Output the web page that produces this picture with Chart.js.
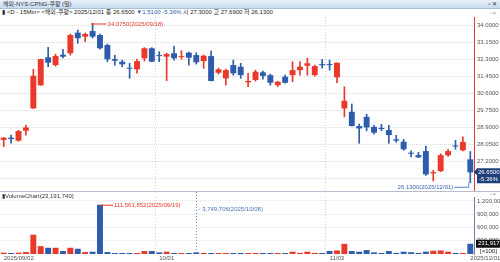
<!DOCTYPE html>
<html>
<head>
<meta charset="utf-8">
<script src="https://cdn.jsdelivr.net/npm/chart.js@4.4.0/dist/chart.umd.min.js"></script>
<style>
body{margin:0;width:500px;height:262px;overflow:hidden;background:#fff;position:relative;
  font-family:"Liberation Sans","Noto Sans CJK KR",sans-serif;}
#titlebar{position:absolute;left:0;top:0;width:500px;height:8px;background:linear-gradient(#e6f0f9,#c8dbee);
  border-bottom:1px solid #a8bfd8;font-size:6px;line-height:8px;color:#333;}
#titlebar .t{position:absolute;left:3px;top:0;}
#titlebar .b{position:absolute;right:3px;top:0;font-size:6px;color:#334;}
#info{position:absolute;left:2px;top:9px;font-size:6px;line-height:7px;color:#222;white-space:nowrap;}
#info .dn{color:#2d5cab;}
.icons{position:absolute;right:4px;font-size:5px;color:#889;}
#pricewrap{position:absolute;left:0;top:17px;}
#volwrap{position:absolute;left:0;top:191px;border-top:1px solid #b5bccb;}
</style>
</head>
<body>
<div id="titlebar"><span class="t">해외-NYS:CPNG-쿠팡 (일)</span><span class="b">▫ ✕</span></div>
<div id="info">▮ &lt;D - 15Min&gt; &lt;해외-쿠팡&gt; 2025/12/01 종 26.6500 <span class="dn">▼1.5100 -5.36%</span> 시 27.3000 고 27.6900 저 26.1300</div>
<div class="icons" style="top:10px">▫ ×</div>
<div id="pricewrap"><canvas id="price" width="500" height="174"></canvas></div>
<div id="volwrap"><canvas id="volume" width="500" height="70"></canvas></div>
<div class="icons" style="top:191px">▫ ×</div>
<script>
const dates = [
  '2025/09/02','2025/09/03','2025/09/04','2025/09/05','2025/09/08','2025/09/09','2025/09/10','2025/09/11',
  '2025/09/12','2025/09/15','2025/09/16','2025/09/17','2025/09/18','2025/09/19','2025/09/22','2025/09/23',
  '2025/09/24','2025/09/25','2025/09/26','2025/09/29','2025/09/30',
  '2025/10/01','2025/10/02','2025/10/03','2025/10/06','2025/10/07','2025/10/08','2025/10/09','2025/10/10',
  '2025/10/13','2025/10/14','2025/10/15','2025/10/16','2025/10/17','2025/10/20','2025/10/21','2025/10/22',
  '2025/10/23','2025/10/24','2025/10/27','2025/10/28','2025/10/29','2025/10/30','2025/10/31',
  '2025/11/03','2025/11/04','2025/11/05','2025/11/06','2025/11/07','2025/11/10','2025/11/11','2025/11/12',
  '2025/11/13','2025/11/14','2025/11/17','2025/11/18','2025/11/19','2025/11/20','2025/11/21','2025/11/24',
  '2025/11/25','2025/11/26','2025/11/28',
  '2025/12/01'
];
const opens = [
  28.27,28.38,28.23,28.73,29.84,30.99,32.39,32.00,32.52,32.59,33.62,33.42,33.70,33.50,33.00,32.30,
  32.17,31.87,31.79,32.34,32.84,32.50,32.42,32.59,32.40,32.62,32.50,32.20,32.45,31.62,31.34,32.00,
  31.92,31.14,31.26,31.64,31.50,31.00,31.42,31.50,31.75,31.97,31.50,32.05,32.05,31.39,29.84,29.67,
  28.96,29.42,28.92,28.87,28.76,28.30,28.18,27.62,27.51,27.71,26.60,26.71,27.50,27.98,27.75,27.30
];
const highs = [
  28.40,28.51,28.75,29.01,31.79,32.30,32.89,32.55,32.79,33.55,33.75,33.60,34.075,33.55,33.05,32.50,
  32.25,32.09,32.30,32.87,32.87,32.67,32.60,32.95,32.72,32.65,32.62,32.50,32.70,31.85,31.80,32.25,
  32.09,31.59,31.75,31.70,31.55,31.20,31.50,32.17,32.17,32.34,32.00,32.28,32.25,32.12,30.92,30.06,
  29.06,29.55,29.00,29.05,29.00,28.50,28.30,27.72,27.65,27.96,26.76,27.58,27.80,28.25,28.42,27.69
];
const lows = [
  27.93,28.10,28.20,28.51,29.84,30.99,31.92,31.95,32.36,32.50,33.09,33.17,33.35,32.80,32.17,32.00,
  31.92,31.34,31.60,32.20,32.17,32.17,31.22,32.25,32.30,32.00,32.05,31.84,31.21,31.55,31.00,31.50,
  31.34,30.92,31.20,31.30,31.00,30.92,31.10,31.17,31.50,31.50,31.45,31.85,31.75,31.12,29.42,28.96,
  28.10,28.72,28.55,28.72,28.10,28.15,27.75,27.42,27.38,26.50,26.22,26.68,27.45,27.80,27.72,26.13
];
const closes = [
  28.38,28.31,28.71,28.89,31.47,32.30,32.12,32.45,32.42,33.50,33.34,33.55,33.42,32.84,32.29,32.22,
  32.04,31.82,32.20,32.84,32.17,32.45,32.55,32.34,32.45,32.37,32.14,32.47,31.21,31.79,31.75,31.59,
  31.50,31.21,31.67,31.46,31.12,31.17,31.12,31.75,31.92,32.09,31.95,31.99,32.00,32.12,30.22,28.96,
  28.84,28.89,28.63,28.81,28.51,28.23,27.80,27.58,27.40,26.55,26.66,27.51,27.71,27.94,28.16,26.65
];
const volumes = [
  3000000,1500000,3000000,4400000,43700000,17800000,14100000,14100000,6700000,14100000,11900000,4400000,
  5200000,111561852,4400000,2200000,2200000,2200000,2200000,6700000,6700000,3700000,5200000,1500000,
  1500000,800000,3749706,1000000,2200000,1000000,1000000,2200000,1000000,1500000,1000000,1500000,
  2000000,1500000,1500000,5200000,2500000,5200000,2500000,1000000,6700000,8100000,23000000,6700000,
  5200000,8900000,3700000,2000000,6700000,2500000,5200000,4000000,2500000,5200000,7400000,8100000,
  5200000,2000000,1000000,23191740
];
const priceTicks = [34.00, 33.15, 32.30, 31.45, 30.60, 29.75, 28.90, 28.05, 27.20, 26.35];
const volumeTicks = [300000, 600000, 900000, 1200000];
const tickDates = ['2025/09/02', '2025/10/01', '2025/11/03', '2025/12/01'];
const tickTexts = ['2025/09/02', '10/01', '11/03', '2025/12/01'];
const gridDates = ['2025/10/01', '2025/11/03'];
const crossDate = '2025/10/08';
const prevClose = 28.16;

const RED = '#e8392b';
const BLUE = '#2d5cab';
const FONT = '"Liberation Sans", sans-serif';
const AXIS_W = 26;

const candleColors = dates.map((d, i) => closes[i] >= opens[i] ? RED : BLUE);

// keep the right axis a fixed width and stop it from padding the plot
function fixWidth(scale){
    scale.width = AXIS_W;
    scale.paddingTop = 0;
    scale.paddingBottom = 0;
}

function monthGrid(ctx){
    return gridDates.includes(dates[ctx.index]) ? '#cfcfcf' : 'rgba(0,0,0,0)';
}

const priceMarks = {
    id: 'priceMarks',
    afterDatasetsDraw(chart){
        const {ctx, scales: {x, y}} = chart;
        const hi = highs.indexOf(Math.max(...highs));
        const lo = lows.indexOf(Math.min(...lows));
        ctx.save();
        ctx.font = '6px ' + FONT;
        ctx.textBaseline = 'middle';
        ctx.lineWidth = 1;

        // highest price
        let px = x.getPixelForValue(hi), py = y.getPixelForValue(highs[hi]);
        ctx.strokeStyle = RED; ctx.fillStyle = RED;
        ctx.beginPath(); ctx.moveTo(px, py + 0.5); ctx.lineTo(px + 14, py + 0.5); ctx.stroke();
        ctx.fillRect(px - 1, py - 0.5, 2, 2);
        ctx.fillText(highs[hi].toFixed(4) + '(' + dates[hi] + ')', px + 15, py + 0.5);

        // lowest price
        px = x.getPixelForValue(lo); py = y.getPixelForValue(lows[lo]);
        const ly = py + 4;
        ctx.strokeStyle = '#5a7fc4'; ctx.fillStyle = '#3a64b0';
        ctx.beginPath(); ctx.moveTo(px - 1.5, py); ctx.lineTo(px - 1.5, ly + 0.5); ctx.lineTo(px - 16, ly + 0.5); ctx.stroke();
        ctx.textAlign = 'right';
        ctx.fillText(lows[lo].toFixed(4) + '(' + dates[lo] + ')', px - 17, ly + 0.5);

        // current price box
        const last = closes.length - 1;
        const cy = y.getPixelForValue(closes[last]);
        const bx = chart.chartArea.right + 2;
        ctx.fillStyle = '#1f3f78';
        ctx.beginPath();
        ctx.moveTo(bx - 2, cy);
        ctx.lineTo(bx + 1, cy - 4);
        ctx.lineTo(500, cy - 4);
        ctx.lineTo(500, cy + 11);
        ctx.lineTo(bx + 1, cy + 11);
        ctx.lineTo(bx + 1, cy + 3);
        ctx.closePath();
        ctx.fill();
        ctx.fillStyle = '#fff';
        ctx.textAlign = 'left';
        const pct = (closes[last] - prevClose) / prevClose * 100;
        ctx.fillText(closes[last].toFixed(4), bx + 2, cy);
        ctx.fillText(pct.toFixed(2) + '%', bx + 3, cy + 7);
        ctx.restore();
    }
};

const volumeMarks = {
    id: 'volumeMarks',
    afterDatasetsDraw(chart){
        const {ctx, scales: {x, y}, chartArea} = chart;
        ctx.save();
        ctx.font = '6px ' + FONT;
        ctx.textBaseline = 'middle';
        const last = volumes.length - 1;

        ctx.fillStyle = '#333';
        ctx.fillText('▮VolumeChart(' + volumes[last].toLocaleString('en-US') + ')', 2, 4);

        // biggest volume
        const top = volumes.indexOf(Math.max(...volumes));
        let px = x.getPixelForValue(top), py = y.getPixelForValue(volumes[top] / 100);
        ctx.strokeStyle = RED; ctx.fillStyle = RED;
        ctx.beginPath(); ctx.moveTo(px, py + 0.5); ctx.lineTo(px + 13, py + 0.5); ctx.stroke();
        ctx.fillText(volumes[top].toLocaleString('en-US') + '(' + dates[top] + ')', px + 14, py + 0.5);

        // crosshair
        const ci = dates.indexOf(crossDate);
        px = Math.round(x.getPixelForValue(ci)) + 0.5;
        ctx.strokeStyle = '#6f8fd0'; ctx.setLineDash([1, 2]);
        ctx.beginPath(); ctx.moveTo(px, 0); ctx.lineTo(px, chartArea.bottom); ctx.stroke();
        ctx.setLineDash([]);
        ctx.fillStyle = '#4a70b8';
        ctx.fillText('- ' + volumes[ci].toLocaleString('en-US') + '(' + dates[ci] + ')', px + 2, 17);

        // current volume box
        const cy = y.getPixelForValue(volumes[last] / 100);
        const bx = chartArea.right + 2;
        ctx.fillStyle = '#111';
        ctx.fillRect(bx, cy - 4, 500 - bx, 8);
        ctx.fillStyle = '#fff';
        ctx.fillText(Math.round(volumes[last] / 100).toLocaleString('en-US'), bx + 2, cy);
        ctx.fillStyle = '#222';
        ctx.fillText('[×100]', bx + 4, cy + 8);
        ctx.restore();
    }
};

function createPriceChart(){
    const canvas = document.querySelector('#price');
    let options = {
        type: 'bar',
        data: {
            labels: dates,
            datasets: [{
                label: 'wick',
                data: dates.map((d, i) => [lows[i], highs[i]]),
                backgroundColor: candleColors,
                barThickness: 1,
                grouped: false,
                order: 2,
            }, {
                label: 'body',
                data: dates.map((d, i) => [opens[i], closes[i]]),
                backgroundColor: candleColors,
                barPercentage: 0.8,
                categoryPercentage: 1,
                minBarLength: 1,
                grouped: false,
                order: 1,
            }]
        },
        options: {
            responsive: false,
            animation: false,
            devicePixelRatio: 1,
            layout: { padding: 0 },
            scales: {
                x: {
                    ticks: { display: false },
                    grid: { color: monthGrid, drawTicks: false },
                    border: { display: false, dash: [1, 2] },
                    afterFit: (scale) => { scale.height = 0; scale.paddingLeft = 0; scale.paddingRight = 0; },
                },
                y: {
                    position: 'right',
                    min: 25.72,
                    max: 34.40,
                    afterBuildTicks: (scale) => { scale.ticks = priceTicks.map(v => ({ value: v })); },
                    afterFit: fixWidth,
                    ticks: {
                        padding: 3,
                        color: '#555',
                        font: { family: FONT, size: 6 },
                        callback: (v) => Number(v).toFixed(4),
                    },
                    grid: { color: '#dcdcdc', drawTicks: false },
                    border: { color: '#e53935', width: 1, dash: [1, 1] },
                },
            },
            plugins: {
                legend: { display: false },
                tooltip: { enabled: false },
            },
        },
        plugins: [priceMarks],
    };
    const chart = new Chart(canvas.getContext('2d'), options);
}

function createVolumeChart(){
    const canvas = document.querySelector('#volume');
    let options = {
        type: 'bar',
        data: {
            labels: dates,
            datasets: [{
                label: 'Volume',
                data: volumes.map(v => v / 100),
                backgroundColor: candleColors,
                barPercentage: 0.8,
                categoryPercentage: 1,
                minBarLength: 1,
            }]
        },
        options: {
            responsive: false,
            animation: false,
            devicePixelRatio: 1,
            layout: { padding: { top: 5 } },
            scales: {
                x: {
                    ticks: {
                        autoSkip: false,
                        maxRotation: 0,
                        align: 'start',
                        padding: 1,
                        color: '#555',
                        font: { family: FONT, size: 6 },
                        callback: (v, i) => {
                            const k = tickDates.indexOf(dates[i]);
                            return k >= 0 ? tickTexts[k] : '';
                        },
                    },
                    grid: { color: monthGrid, drawTicks: false },
                    border: { display: false, dash: [1, 2] },
                    afterFit: (scale) => { scale.height = 8; scale.paddingLeft = 0; scale.paddingRight = 0; },
                },
                y: {
                    position: 'right',
                    min: 0,
                    max: 1290000,
                    afterBuildTicks: (scale) => { scale.ticks = volumeTicks.map(v => ({ value: v })); },
                    afterFit: fixWidth,
                    ticks: {
                        padding: 3,
                        color: '#555',
                        font: { family: FONT, size: 6 },
                        callback: (v) => Number(v).toLocaleString('en-US'),
                    },
                    grid: { color: '#e4e4e4', drawTicks: false },
                    border: { color: '#6f7f9f', width: 1, dash: [1, 1] },
                },
            },
            plugins: {
                legend: { display: false },
                tooltip: { enabled: false },
            },
        },
        plugins: [volumeMarks],
    };
    const chart = new Chart(canvas.getContext('2d'), options);
}

function main(){
    createPriceChart();
    createVolumeChart();
}

main();
</script>
</body>
</html>
